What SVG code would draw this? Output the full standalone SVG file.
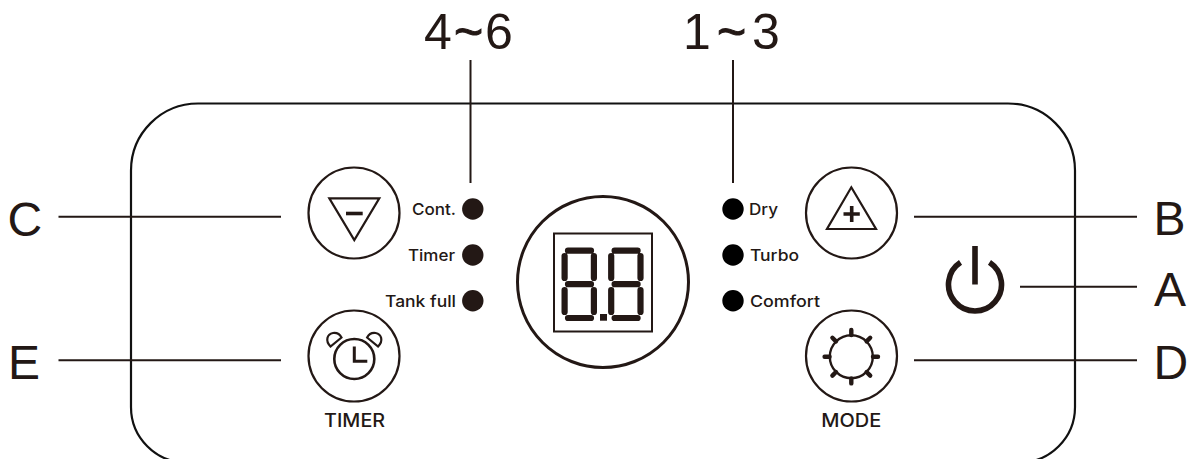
<svg xmlns="http://www.w3.org/2000/svg" xmlns:xlink="http://www.w3.org/1999/xlink" width="1191" height="459" viewBox="0 0 1191 459">
<style>
.o{fill:none;stroke:#111;stroke-width:2.2}
.c{fill:none;stroke:#231815;stroke-width:2.2}
.s{fill:none;stroke:#231815;stroke-width:6.2;stroke-linecap:round}
.k{stroke:#231815;stroke-width:4.4;stroke-linecap:round;fill:none}
.big{font-family:"Liberation Sans",Arial,sans-serif;font-size:50px;fill:#231815}
.til{stroke:#231815;stroke-width:1}
.let{font-family:"Liberation Sans",Arial,sans-serif;font-size:48px;fill:#231815}
.sm{font-family:Inter,"Noto Sans",sans-serif;font-size:16px;font-weight:500;fill:#231815}
.cap{font-family:Inter,"Noto Sans",sans-serif;font-size:18.5px;font-weight:500;fill:#231815}
</style>
<defs>
<g id="digit">
<path class="s" d="M568 250.7H591M568 284.2H591M568 318H591M564.6 256V278M564.6 290V312M593.9 256V278M593.9 290V312"/>
</g>
</defs>
<rect width="1191" height="459" fill="#fff"/>
<g id="panel"><path class="o" d="M186.5 462.5A55.5 55.5 0 0 1 131 407V170.5A67 67 0 0 1 198 103.5H1008A67 67 0 0 1 1075 170.5V407A55.5 55.5 0 0 1 1019.5 462.5"/></g>
<g id="connectors" stroke="#231815" stroke-width="2" fill="none">
<path d="M470.5 60V183M733 60V183M58.5 216.7H281M58.5 360.3H281M914 216.7H1137M914 360.3H1137M1020 286.7H1137"/>
</g>
<g id="label-4-6"><text class="big" x="424" y="49">4</text><text class="big til" x="454" y="49">~</text><text class="big" x="485" y="49">6</text></g>
<g id="label-1-3"><text class="big" x="683" y="49">1</text><text class="big til" x="717" y="49">~</text><text class="big" x="752" y="49">3</text></g>
<g id="label-c"><text class="let" x="7.6" y="235.5">C</text></g>
<g id="label-e"><text class="let" x="8" y="379">E</text></g>
<g id="label-b"><text class="let" x="1153.5" y="234.5">B</text></g>
<g id="label-a"><text class="let" x="1154" y="306">A</text></g>
<g id="label-d"><text class="let" x="1153.5" y="379">D</text></g>
<g id="btn-minus"><circle class="c" cx="354" cy="213" r="45.5"/><path class="c" d="M329.3 198.3H379.3L354.3 240Z"/><path d="M346 213.5H362.7" stroke="#231815" stroke-width="3.6" fill="none"/></g>
<g id="btn-timer"><circle class="c" cx="354" cy="356" r="45.5"/><circle cx="354.3" cy="359" r="20" fill="none" stroke="#231815" stroke-width="2.6"/><path d="M354.3 346.5V361.3H367.3" fill="none" stroke="#231815" stroke-width="3"/><path class="c" d="M330.5 346.5C325 341 327 334 333 333C337 332.5 340 334.5 341.5 337.5Z"/><path class="c" d="M378.1 346.5C383.6 341 381.6 334 375.6 333C371.6 332.5 368.6 334.5 367.1 337.5Z"/><text class="cap" x="354.6" y="427" text-anchor="middle" textLength="61" lengthAdjust="spacingAndGlyphs">TIMER</text></g>
<g id="btn-plus"><circle class="c" cx="851.5" cy="213" r="45.5"/><path class="c" d="M851.3 187.3L876 229H827Z"/><path d="M843.5 214H859.8M851.7 206V222" stroke="#231815" stroke-width="3.6" fill="none"/></g>
<g id="btn-mode"><circle class="c" cx="851.5" cy="356" r="45.5"/><circle cx="851.3" cy="356.7" r="21.5" fill="none" stroke="#231815" stroke-width="2.4"/><path class="k" d="M851.3 335V330M851.3 378.4V383.4M829.6 356.7H824.6M873 356.7H878M836 341.4L832.4 337.8M866.6 341.4L870.2 337.8M836 372L832.4 375.6M866.6 372L870.2 375.6"/><text class="cap" x="851.3" y="427" text-anchor="middle" textLength="60" lengthAdjust="spacingAndGlyphs">MODE</text></g>
<g id="btn-power"><path fill="none" stroke="#231815" stroke-width="5.6" d="M960.5 262.3A26.5 26.5 0 1 0 989.5 262.3M975 246V284.5"/></g>
<g id="display"><circle fill="none" stroke="#231815" stroke-width="3" cx="603" cy="282" r="85.5"/><rect x="554" y="233.5" width="98" height="98" fill="none" stroke="#231815" stroke-width="2"/><use xlink:href="#digit"/><use xlink:href="#digit" x="46.6"/><rect x="600" y="314" width="7" height="6.7" fill="#231815"/></g>
<g id="ind-cont"><circle cx="472.8" cy="209" r="10.7" fill="#231815"/><text class="sm" x="456" y="215" text-anchor="end" textLength="44" lengthAdjust="spacingAndGlyphs">Cont.</text></g>
<g id="ind-timer"><circle cx="472.8" cy="255" r="10.7" fill="#231815"/><text class="sm" x="455" y="261" text-anchor="end" textLength="47" lengthAdjust="spacingAndGlyphs">Timer</text></g>
<g id="ind-tank"><circle cx="472.8" cy="300.7" r="10.7" fill="#231815"/><text class="sm" x="456" y="307" text-anchor="end" textLength="71" lengthAdjust="spacingAndGlyphs">Tank full</text></g>
<g id="ind-dry"><circle cx="733" cy="209" r="10.7" fill="#000"/><text class="sm" x="749" y="214.5" textLength="29" lengthAdjust="spacingAndGlyphs">Dry</text></g>
<g id="ind-turbo"><circle cx="733" cy="255" r="10.7" fill="#000"/><text class="sm" x="750" y="261" textLength="49" lengthAdjust="spacingAndGlyphs">Turbo</text></g>
<g id="ind-comfort"><circle cx="733" cy="300.7" r="10.7" fill="#000"/><text class="sm" x="750" y="307" textLength="70" lengthAdjust="spacingAndGlyphs">Comfort</text></g>
</svg>
